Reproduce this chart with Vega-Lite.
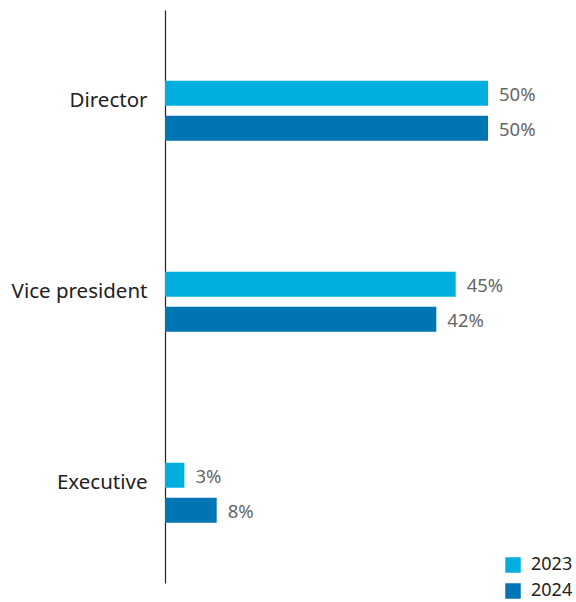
{
  "$schema": "https://vega.github.io/schema/vega-lite/v6.json",
  "width": 323,
  "height": 573,
  "autosize": {"type": "none"},
  "padding": {"left": 165, "top": 10, "right": 88, "bottom": 19},
  "background": "white",
  "config": {"view": {"stroke": null}, "font": "Noto Sans"},
  "data": {
    "values": [
      {"role": "Director", "year": "2023", "pct": 0.50},
      {"role": "Director", "year": "2024", "pct": 0.50},
      {"role": "Vice president", "year": "2023", "pct": 0.45},
      {"role": "Vice president", "year": "2024", "pct": 0.42},
      {"role": "Executive", "year": "2023", "pct": 0.03},
      {"role": "Executive", "year": "2024", "pct": 0.08}
    ]
  },
  "encoding": {
    "y": {
      "field": "role",
      "type": "nominal",
      "sort": ["Director", "Vice president", "Executive"],
      "scale": {"paddingInner": 0.686, "paddingOuter": 0.343, "align": 0.54},
      "axis": {
        "title": null,
        "ticks": false,
        "labelPadding": 18,
        "labelFontSize": 20.5,
        "labelColor": "#222222",
        "labelOffset": -10,
        "domainColor": "#222222",
        "domainWidth": 1.2
      }
    },
    "yOffset": {
      "field": "year",
      "type": "nominal",
      "scale": {"paddingInner": 0.2857, "paddingOuter": 0}
    },
    "x": {
      "field": "pct",
      "type": "quantitative",
      "scale": {"domain": [0, 0.5], "nice": false},
      "axis": null
    }
  },
  "layer": [
    {
      "mark": {"type": "bar"},
      "encoding": {
        "color": {
          "field": "year",
          "type": "nominal",
          "scale": {"domain": ["2023", "2024"], "range": ["#00AEE0", "#0075B4"]},
          "legend": {
            "title": null,
            "orient": "none",
            "legendX": 339,
            "legendY": 546,
            "symbolType": "square",
            "symbolSize": 240,
            "symbolStrokeWidth": 0,
            "labelFontSize": 18,
            "labelColor": "#222222",
            "rowPadding": 8,
            "labelOffset": 9
          }
        }
      }
    },
    {
      "mark": {"type": "text", "align": "left", "baseline": "middle", "dx": 11, "dy": 2, "fontSize": 18.5, "color": "#666666"},
      "encoding": {
        "text": {"field": "pct", "type": "quantitative", "format": ".0%"},
        "detail": {"field": "year"}
      }
    }
  ]
}
